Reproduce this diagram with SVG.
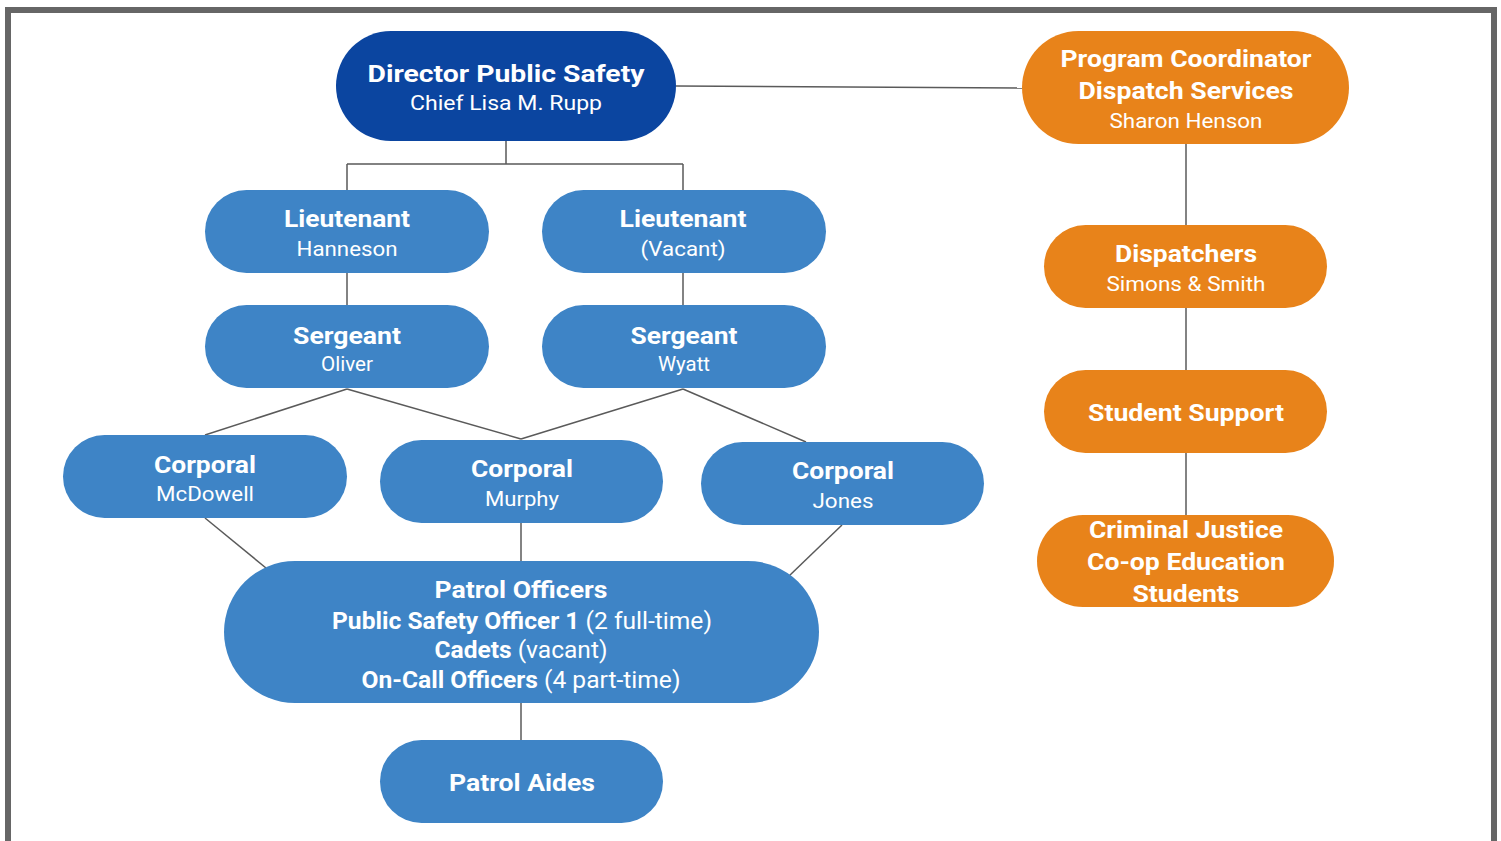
<svg xmlns="http://www.w3.org/2000/svg" width="1501" height="841" viewBox="0 0 1501 841">
  <style>
    .pill-dark { fill: #0b45a0; }
    .pill { fill: #3e84c6; }
    .pill-orange { fill: #e8831a; }
    .t { font-family: Roboto, "Liberation Sans", sans-serif; fill: #ffffff; text-anchor: middle; }
    .b { font-weight: 700; font-size: 24px; }
    .r { font-weight: 400; font-size: 21px; }
    .conn line, .conn path { stroke: #5a5a5a; stroke-width: 1.5; fill: none; }
  </style>
  <rect x="0" y="0" width="1501" height="841" fill="#ffffff"/>
  <!-- page frame -->
  <path d="M8,845 L8,10 L1494,10 L1494,845" fill="none" stroke="#666666" stroke-width="6"/>

  <g class="conn" id="connectors">
    <line x1="676" y1="86" x2="1022" y2="88"/>
    <path d="M506,141 V164 M347,164 H683 M347,164 V190 M683,164 V190"/>
    <line x1="347" y1="273" x2="347" y2="305"/>
    <line x1="683" y1="273" x2="683" y2="305"/>
    <line x1="347" y1="389" x2="205" y2="435"/>
    <line x1="347" y1="389" x2="521" y2="439"/>
    <line x1="683" y1="389" x2="521" y2="439"/>
    <line x1="683" y1="389" x2="806" y2="442"/>
    <line x1="205" y1="518" x2="266" y2="568"/>
    <line x1="521" y1="523" x2="521" y2="561"/>
    <line x1="842" y1="525" x2="789" y2="576"/>
    <line x1="521" y1="703" x2="521" y2="740"/>
    <line x1="1186" y1="144" x2="1186" y2="225"/>
    <line x1="1186" y1="308" x2="1186" y2="370"/>
    <line x1="1186" y1="453" x2="1186" y2="515"/>
  </g>

  <g id="director">
    <rect class="pill-dark" x="336" y="31" width="340" height="110" rx="55"/>
    <text class="t b" x="506" y="82" font-size="25" textLength="277" lengthAdjust="spacingAndGlyphs">Director Public Safety</text>
    <text class="t r" x="506" y="110" textLength="192" lengthAdjust="spacingAndGlyphs">Chief Lisa M. Rupp</text>
  </g>

  <g id="program-coordinator">
    <rect class="pill-orange" x="1022" y="31" width="327" height="113" rx="56.5"/>
    <text class="t b" x="1186" y="67" textLength="251" lengthAdjust="spacingAndGlyphs">Program Coordinator</text>
    <text class="t b" x="1186" y="99" textLength="215" lengthAdjust="spacingAndGlyphs">Dispatch Services</text>
    <text class="t r" x="1186" y="128" textLength="153" lengthAdjust="spacingAndGlyphs">Sharon Henson</text>
  </g>

  <g id="lieutenant-hanneson">
    <rect class="pill" x="205" y="190" width="284" height="83" rx="41.5"/>
    <text class="t b" x="347" y="227" textLength="126" lengthAdjust="spacingAndGlyphs">Lieutenant</text>
    <text class="t r" x="347" y="256" textLength="101" lengthAdjust="spacingAndGlyphs">Hanneson</text>
  </g>

  <g id="lieutenant-vacant">
    <rect class="pill" x="542" y="190" width="284" height="83" rx="41.5"/>
    <text class="t b" x="683" y="227" textLength="127" lengthAdjust="spacingAndGlyphs">Lieutenant</text>
    <text class="t r" x="683" y="256" textLength="85" lengthAdjust="spacingAndGlyphs">(Vacant)</text>
  </g>

  <g id="sergeant-oliver">
    <rect class="pill" x="205" y="305" width="284" height="83" rx="41.5"/>
    <text class="t b" x="347" y="344" textLength="108" lengthAdjust="spacingAndGlyphs">Sergeant</text>
    <text class="t r" x="347" y="371" textLength="52" lengthAdjust="spacingAndGlyphs">Oliver</text>
  </g>

  <g id="sergeant-wyatt">
    <rect class="pill" x="542" y="305" width="284" height="83" rx="41.5"/>
    <text class="t b" x="684" y="344" textLength="107" lengthAdjust="spacingAndGlyphs">Sergeant</text>
    <text class="t r" x="684" y="371" textLength="52" lengthAdjust="spacingAndGlyphs">Wyatt</text>
  </g>

  <g id="corporal-mcdowell">
    <rect class="pill" x="63" y="435" width="284" height="83" rx="41.5"/>
    <text class="t b" x="205" y="473" textLength="102" lengthAdjust="spacingAndGlyphs">Corporal</text>
    <text class="t r" x="205" y="501" textLength="98" lengthAdjust="spacingAndGlyphs">McDowell</text>
  </g>

  <g id="corporal-murphy">
    <rect class="pill" x="380" y="440" width="283" height="83" rx="41.5"/>
    <text class="t b" x="522" y="477" textLength="102" lengthAdjust="spacingAndGlyphs">Corporal</text>
    <text class="t r" x="522" y="506" textLength="74" lengthAdjust="spacingAndGlyphs">Murphy</text>
  </g>

  <g id="corporal-jones">
    <rect class="pill" x="701" y="442" width="283" height="83" rx="41.5"/>
    <text class="t b" x="843" y="479" textLength="102" lengthAdjust="spacingAndGlyphs">Corporal</text>
    <text class="t r" x="843" y="508" textLength="61" lengthAdjust="spacingAndGlyphs">Jones</text>
  </g>

  <g id="patrol-officers">
    <rect class="pill" x="224" y="561" width="595" height="142" rx="71"/>
    <text class="t b" x="521" y="598" textLength="173" lengthAdjust="spacingAndGlyphs">Patrol Officers</text>
    <text class="t" x="522" y="629" font-size="24" textLength="380" lengthAdjust="spacingAndGlyphs"><tspan font-weight="700">Public Safety Officer 1</tspan> (2 full-time)</text>
    <text class="t" x="521" y="658" font-size="24" textLength="173" lengthAdjust="spacingAndGlyphs"><tspan font-weight="700">Cadets</tspan> (vacant)</text>
    <text class="t" x="521" y="688" font-size="24" textLength="319" lengthAdjust="spacingAndGlyphs"><tspan font-weight="700">On-Call Officers</tspan> (4 part-time)</text>
  </g>

  <g id="patrol-aides">
    <rect class="pill" x="380" y="740" width="283" height="83" rx="41.5"/>
    <text class="t b" x="522" y="791" textLength="146" lengthAdjust="spacingAndGlyphs">Patrol Aides</text>
  </g>

  <g id="dispatchers">
    <rect class="pill-orange" x="1044" y="225" width="283" height="83" rx="41.5"/>
    <text class="t b" x="1186" y="262" textLength="142" lengthAdjust="spacingAndGlyphs">Dispatchers</text>
    <text class="t r" x="1186" y="291" textLength="159" lengthAdjust="spacingAndGlyphs">Simons &amp; Smith</text>
  </g>

  <g id="student-support">
    <rect class="pill-orange" x="1044" y="370" width="283" height="83" rx="41.5"/>
    <text class="t b" x="1186" y="421" textLength="196" lengthAdjust="spacingAndGlyphs">Student Support</text>
  </g>

  <g id="co-op-students">
    <rect class="pill-orange" x="1037" y="515" width="297" height="92" rx="46"/>
    <text class="t b" x="1186" y="538" textLength="194" lengthAdjust="spacingAndGlyphs">Criminal Justice</text>
    <text class="t b" x="1186" y="570" textLength="198" lengthAdjust="spacingAndGlyphs">Co-op Education</text>
    <text class="t b" x="1186" y="602" textLength="107" lengthAdjust="spacingAndGlyphs">Students</text>
  </g>
</svg>
